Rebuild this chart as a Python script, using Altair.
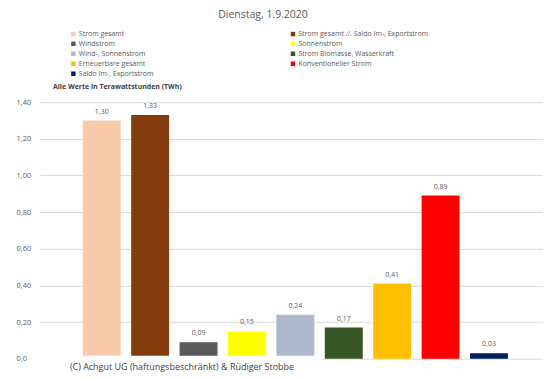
import altair as alt
import pandas as pd

kategorien = [
    "Strom gesamt",
    "Strom gesamt ./. Saldo Im-, Exportstrom",
    "Windstrom",
    "Sonnenstrom",
    "Wind-, Sonnenstrom",
    "Strom Biomasse, Wasserkraft",
    "Erneuerbare gesamt",
    "Konventioneller Strom",
    "Saldo Im-, Exportstrom",
]
werte = [1.30, 1.33, 0.09, 0.15, 0.24, 0.17, 0.41, 0.89, 0.03]
farben = ["#F8CBAD", "#843C0C", "#595959", "#FFFF00", "#ADB9CA",
          "#375623", "#FFC000", "#FF0000", "#002060"]
y_ticks = [0, 0.2, 0.4, 0.6, 0.8, 1.0, 1.2, 1.4]

titel = "Dienstag, 1.9.2020"
untertitel = "Alle Werte in Terawattstunden (TWh)"
copyright_text = "(C) Achgut UG (haftungsbeschränkt) & Rüdiger Stobbe"

FONT = "Open Sans"
GRAY = "#595959"

# legend is filled column by column: left column first, then right column
legend_order = [0, 2, 4, 6, 8, 1, 3, 5, 7]
leg_domain = [kategorien[i] for i in legend_order]
leg_range = [farben[i] for i in legend_order]

df = pd.DataFrame({"Kategorie": kategorien, "Wert": werte})

x_enc = alt.X("Kategorie:N", sort=kategorien,
              scale=alt.Scale(paddingInner=0.216, paddingOuter=0.804, align=0.55),
              axis=None)
y_enc = alt.Y("Wert:Q", scale=alt.Scale(domain=[0, 1.4], nice=False),
              axis=alt.Axis(values=y_ticks, tickCount=8, labelOverlap=False,
                            labelExpr="datum.value == 0 ? '0,0' : replace(format(datum.value, '.2f'), '.', ',')",
                            grid=True, gridColor="#D9D9D9", gridWidth=1,
                            domain=False, ticks=False, tickSize=0,
                            labelAlign="left", labelPadding=24,
                            labelFontSize=7.5, labelColor=GRAY, labelFont=FONT,
                            title=None))

base = alt.Chart(df).encode(x=x_enc, y=y_enc)

bars = base.mark_bar().encode(
    color=alt.Color("Kategorie:N",
                    scale=alt.Scale(domain=leg_domain, range=leg_range),
                    legend=alt.Legend(orient="none", legendX=30, legendY=-72,
                                      columns=2, columnPadding=136, rowPadding=2,
                                      symbolType="square", symbolSize=20,
                                      symbolStrokeWidth=0, labelOffset=2,
                                      labelFontSize=7, labelColor=GRAY,
                                      labelFont=FONT, labelLimit=300,
                                      title=None, padding=0)),
)

labels = base.transform_calculate(
    Label="replace(format(datum.Wert, '.2f'), '.', ',')"
).mark_text(dy=-9, fontSize=7, color=GRAY, font=FONT).encode(text="Label:N")

box = alt.Chart(pd.DataFrame({"t": [""]})).mark_rect(color="white").encode(
    x=alt.value(-6), x2=alt.value(282), y=alt.value(254), y2=alt.value(275)
)

def text_layer(txt, x, y, size, align="left", weight="normal", color=GRAY):
    return alt.Chart(pd.DataFrame({"t": [txt]})).mark_text(
        align=align, baseline="middle", fontSize=size, font=FONT,
        fontWeight=weight, color=color
    ).encode(x=alt.value(x), y=alt.value(y), text="t:N")

t_title = text_layer(titel, 223.5, -87, 10.5, align="center")
t_sub = text_layer(untertitel, 13, -15, 7, weight="bold", color="#404040")
t_copy = text_layer(copyright_text, 30, 265, 9, color="#404040")

chart = alt.layer(bars, labels, box, t_title, t_sub, t_copy).properties(
    width=504, height=257,
    autosize=alt.AutoSizeParams(type="none"),
    padding={"left": 32, "top": 94, "right": 0, "bottom": 20},
).configure_view(stroke=None)

chart.save("out.html", embed_options={"renderer": "svg", "actions": False})
